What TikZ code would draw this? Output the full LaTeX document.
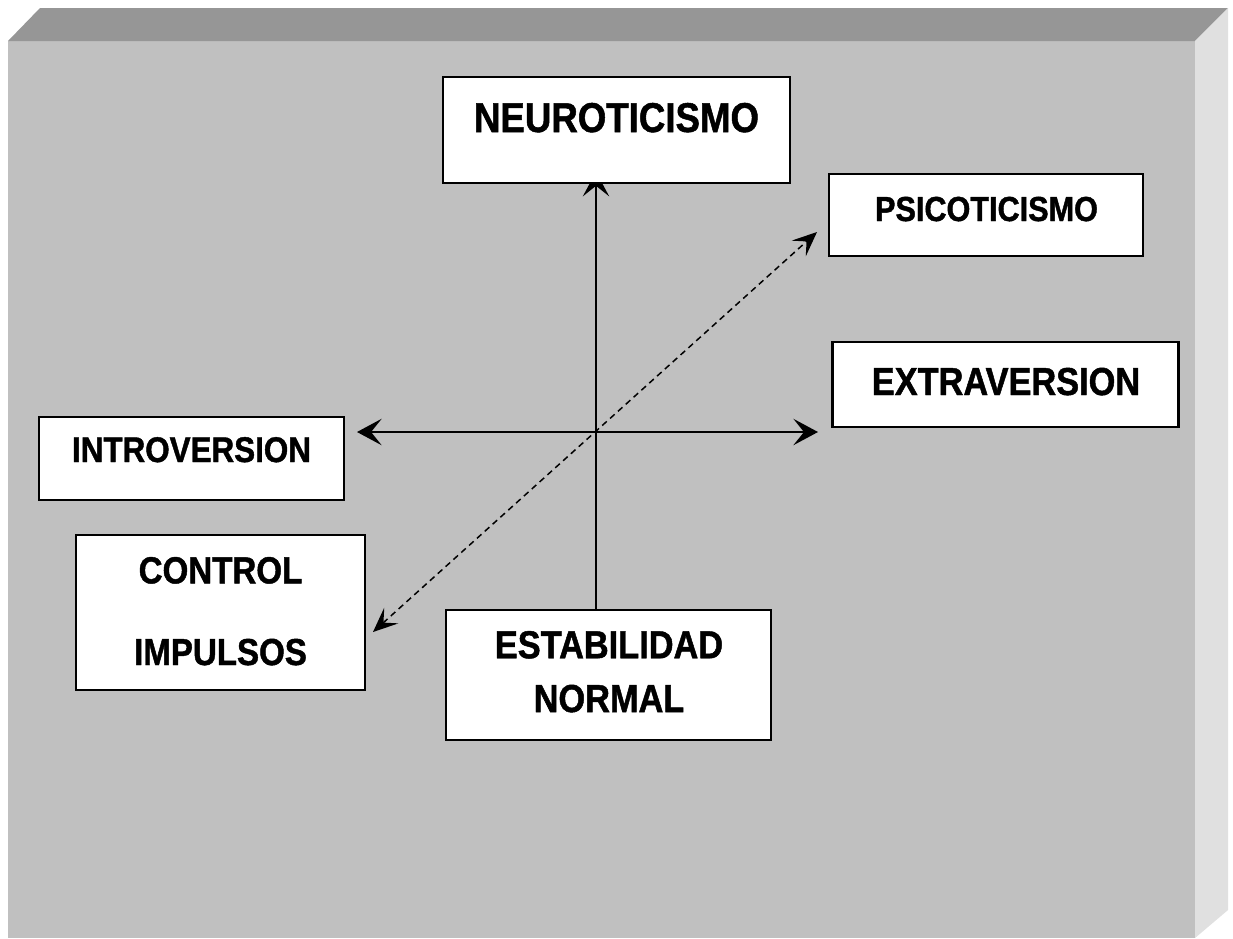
\documentclass[tikz,border=0pt]{standalone}
\usepackage{fontspec}
\setmainfont{Liberation Sans}[FakeStretch=0.88, BoldFeatures={FakeBold=1.2}]
\usetikzlibrary{arrows.meta}

\definecolor{frente}{HTML}{C0C0C0}
\definecolor{tapa}{HTML}{969696}
\definecolor{lado}{HTML}{E0E0E0}

\pgfdeclarelayer{fondo}
\pgfdeclarelayer{flechas}
\pgfsetlayers{fondo,flechas,main}

\tikzset{
  caja/.style={draw, fill=white, line width=1.2pt, inner sep=0pt},
  rotulo/.style={anchor=base, inner sep=0pt, align=center},
  eje/.style={line width=1.2pt, >={Stealth[length=14pt, width=15pt, inset=6pt]}},
  diag/.style={line width=0.85pt, dash pattern=on 3.5pt off 2.5pt,
    >={Stealth[length=14pt, width=12pt, inset=6pt]}}
}

\begin{document}
\begin{tikzpicture}[x=0.02cm, y=-0.02cm]
  \useasboundingbox (0,0) rectangle (1233,938);

  % caja en relieve
  \begin{pgfonlayer}{fondo}
    \fill[frente] (8,41) rectangle (1195,938);
    \fill[tapa] (8,41) -- (40,8) -- (1228,8) -- (1195,41) -- cycle;
    \fill[lado] (1195,41) -- (1228,8) -- (1228,910) -- (1195,938) -- cycle;
  \end{pgfonlayer}

  % cajas
  \node[caja, minimum width=6.94cm, minimum height=2.12cm] (neuro) at (616.5,130) {};
  \node[caja, minimum width=6.28cm, minimum height=1.64cm] (psico) at (986,215) {};
  \node[caja, minimum width=6.92cm, minimum height=1.7cm] (extra) at (1005.5,384.5) {};
  \node[caja, minimum width=6.1cm, minimum height=1.66cm] (intro) at (191.5,458.5) {};
  \node[caja, minimum width=5.78cm, minimum height=3.1cm] (control) at (220.5,612.5) {};
  \node[caja, minimum width=6.5cm, minimum height=2.6cm] (estab) at (608.5,675) {};

  % textos (base = ultima linea)
  \node[rotulo, font=\bfseries\fontsize{23.7}{28}\selectfont] (neurotxt) at (616.5,132) {NEUROTICISMO};
  \node[rotulo, font=\bfseries\fontsize{19.8}{24}\selectfont] (psicotxt) at (986.5,221) {PSICOTICISMO};
  \node[rotulo, font=\bfseries\fontsize{22.2}{26}\selectfont] (extratxt) at (1006,395) {EXTRAVERSION};
  \node[rotulo, font=\bfseries\fontsize{20.3}{24}\selectfont] (introtxt) at (191.5,462) {INTROVERSION};
  \node[rotulo, font=\bfseries\fontsize{21.4}{46.5}\selectfont] (controltxt) at (220.5,665) {CONTROL\\IMPULSOS};
  \node[rotulo, font=\bfseries\fontsize{22.2}{30.6}\selectfont] (estabtxt) at (609,712) {ESTABILIDAD\\NORMAL};

  % ejes
  \coordinate (centro) at (596,432);
  \coordinate (izq) at (357,432);
  \coordinate (der) at (818,432);
  \coordinate (abajo) at (373,632);
  \coordinate (arriba) at (817,232);
  \begin{pgfonlayer}{flechas}
    \draw[eje, ->, shorten >=-7pt] (estab.north -| centro) -- (neuro.south -| centro);
    \draw[eje, <->] (izq) -- (der);
    \draw[diag, <->] (abajo) -- (arriba);
  \end{pgfonlayer}
\end{tikzpicture}
\end{document}
